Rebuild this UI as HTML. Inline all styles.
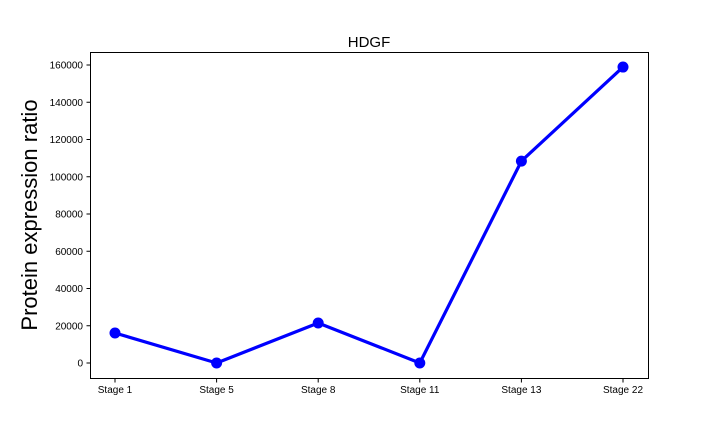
<!DOCTYPE html>
<html><head><meta charset="utf-8"><style>
body{margin:0;background:#fff;}
svg{display:block;font-family:"Liberation Sans","DejaVu Sans",sans-serif;}
</style></head><body>
<svg id="chart" width="720" height="432">
<rect x="0" y="0" width="720" height="432" fill="#fff"/>
<text x="369" y="47" text-anchor="middle" font-size="15">HDGF</text>
<text transform="translate(37,215) rotate(-90)" text-anchor="middle" font-size="22">Protein expression ratio</text>
<g id="yaxis"></g>
<g id="xaxis"></g>
<g id="series"></g>
<rect x="90.5" y="52.5" width="558" height="326" fill="none" stroke="#000" stroke-width="1"/>
</svg>
<script>
const categories = ["Stage 1","Stage 5","Stage 8","Stage 11","Stage 13","Stage 22"];
const values = [16100, 0, 21500, 0, 108400, 158900];
const yTicks = [0,20000,40000,60000,80000,100000,120000,140000,160000];

const NS="http://www.w3.org/2000/svg";
function mk(tag,attrs,parent){const e=document.createElementNS(NS,tag);for(const k in attrs)e.setAttribute(k,attrs[k]);parent.appendChild(e);return e;}
const x0=115, x1=623, y0=363, y160=65;
function xScale(i){return x0+(x1-x0)*i/(categories.length-1);}
function yScale(v){return y0+(y160-y0)*v/160000;}

const ya=document.getElementById('yaxis');
yTicks.forEach(t=>{
  const y=yScale(t);
  const l=mk('line',{x1:86.5,x2:90.5,y1:y,y2:y,stroke:'#000'},ya);
  
  
  const tx=mk('text',{x:83,y:y+3.5,'text-anchor':'end','font-size':'10'},ya);
  tx.textContent=t;
  
  
});
const xa=document.getElementById('xaxis');
categories.forEach((c,i)=>{
  const x=xScale(i);
  const l=mk('line',{x1:x,x2:x,y1:378.5,y2:382.5,stroke:'#000'},xa);
  
  
  const tx=mk('text',{x:x,y:393,'text-anchor':'middle','font-size':'10'},xa);
  tx.textContent=c;
  
  
});
const s=document.getElementById('series');
const pts=values.map((v,i)=>xScale(i)+','+yScale(v)).join(' ');
const pl=mk('polyline',{points:pts,fill:'none',stroke:'#0000ff','stroke-width':3.2,'stroke-linejoin':'round'},s);


values.forEach((v,i)=>{
  const c=mk('circle',{cx:xScale(i),cy:yScale(v),r:5.5,fill:'#0000ff'},s);
  
  
});
</script>
</body></html>
